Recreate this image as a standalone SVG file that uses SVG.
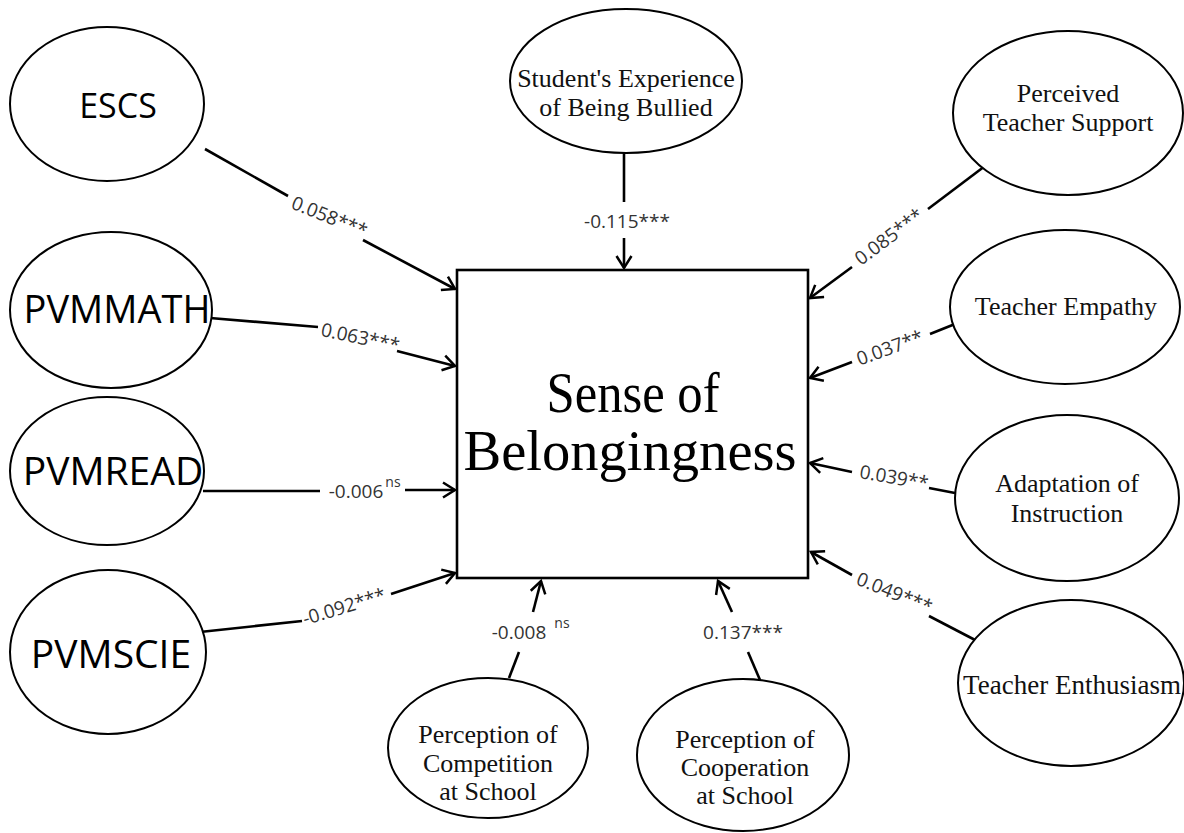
<svg xmlns="http://www.w3.org/2000/svg" width="1184" height="833" viewBox="0 0 1184 833">
<defs>
<style>
.node ellipse{fill:#fff;stroke:#000;stroke-width:2}
.sans{font-family:"Open Sans","DejaVu Sans",sans-serif;font-size:34px;fill:#000;text-anchor:middle}
.serif{font-family:"Liberation Serif","Times New Roman",serif;font-size:26px;fill:#111;text-anchor:middle}
.big{font-family:"Liberation Serif","Times New Roman",serif;font-size:56px;fill:#000;text-anchor:middle}
.lbl{font-family:"Open Sans","DejaVu Sans",sans-serif;font-size:19px;fill:#333;text-anchor:middle}
.sup{font-size:14px}
.conn path{fill:none;stroke:#000;stroke-width:2.6}
</style>
<marker id="arr" markerWidth="18" markerHeight="18" refX="15" refY="9" orient="auto" markerUnits="userSpaceOnUse">
<path d="M3,1.5 L15,9 L3,16.5" fill="none" stroke="#000" stroke-width="2.5"/>
</marker>
</defs>
<rect width="1184" height="833" fill="#fff"/>

<g id="connectors" class="conn">
<path d="M205,149 L288,196"/><path d="M363,240 L455,289" marker-end="url(#arr)"/>
<path d="M210,318 L318,327"/><path d="M397,351 L455,366" marker-end="url(#arr)"/>
<path d="M203,491 L320,491"/><path d="M405,490 L455,490" marker-end="url(#arr)"/>
<path d="M200,632 L302,621"/><path d="M391,594 L455,573" marker-end="url(#arr)"/>
<path d="M624,153 L624,202"/><path d="M624,238 L624,268" marker-end="url(#arr)"/>
<path d="M985,166 L928,209"/><path d="M852,267 L810,298" marker-end="url(#arr)"/>
<path d="M955,324 L930,334"/><path d="M852,362 L810,378" marker-end="url(#arr)"/>
<path d="M955,493 L929,488"/><path d="M852,472 L810,463" marker-end="url(#arr)"/>
<path d="M977,641 L929,616"/><path d="M852,575 L811,552" marker-end="url(#arr)"/>
<path d="M509,678 L519,652"/><path d="M533,612 L541,581" marker-end="url(#arr)"/>
<path d="M760,680 L748,652"/><path d="M732,612 L718,581" marker-end="url(#arr)"/>
</g>

<g id="labels">
<text class="lbl" transform="translate(327,223) rotate(22)">0.058***</text>
<text class="lbl" transform="translate(359,344) rotate(12)">0.063***</text>
<text class="lbl" x="356" y="498">-0.006</text><text class="lbl sup" x="393" y="487">ns</text>
<text class="lbl" transform="translate(346,613) rotate(-17)">-0.092***</text>
<text class="lbl" x="627" y="228">-0.115***</text>
<text class="lbl" transform="translate(893,242) rotate(-37)">0.085***</text>
<text class="lbl" transform="translate(892,354) rotate(-20)">0.037**</text>
<text class="lbl" transform="translate(893,484) rotate(10)">0.039**</text>
<text class="lbl" transform="translate(892,599) rotate(22)">0.049***</text>
<text class="lbl" x="519" y="639">-0.008</text><text class="lbl sup" x="562" y="628">ns</text>
<text class="lbl" x="743" y="639">0.137***</text>
</g>

<g id="sense-of-belongingness">
<rect x="457" y="270" width="351" height="308" fill="#fff" stroke="#000" stroke-width="2.6"/>
<text class="big" x="633" y="412" textLength="173" lengthAdjust="spacingAndGlyphs">Sense of</text>
<text class="big" x="630" y="470" textLength="333" lengthAdjust="spacingAndGlyphs">Belongingness</text>
</g>

<g id="escs" class="node"><ellipse cx="107" cy="104" rx="97" ry="77"/><text class="sans" x="118" y="118">ESCS</text></g>
<g id="pvmmath" class="node"><ellipse cx="111" cy="310" rx="101" ry="78"/><text class="sans" x="117" y="323" style="font-size:38px">PVMMATH</text></g>
<g id="pvmread" class="node"><ellipse cx="107" cy="471" rx="97" ry="74"/><text class="sans" x="113" y="485" style="font-size:39px">PVMREAD</text></g>
<g id="pvmscie" class="node"><ellipse cx="108" cy="652" rx="98" ry="82"/><text class="sans" x="111" y="668" style="font-size:39px">PVMSCIE</text></g>

<g id="bullied" class="node"><ellipse cx="626" cy="81" rx="116" ry="72"/>
<text class="serif" x="626" y="87">Student's Experience</text><text class="serif" x="626" y="116">of Being Bullied</text></g>
<g id="teacher-support" class="node"><ellipse cx="1068" cy="113" rx="115" ry="82"/>
<text class="serif" x="1068" y="102">Perceived</text><text class="serif" x="1068" y="131">Teacher Support</text></g>
<g id="teacher-empathy" class="node"><ellipse cx="1065" cy="307" rx="115" ry="77"/>
<text class="serif" x="1066" y="315">Teacher Empathy</text></g>
<g id="adaptation" class="node"><ellipse cx="1067" cy="498" rx="112" ry="83"/>
<text class="serif" x="1067" y="492">Adaptation of</text><text class="serif" x="1067" y="522">Instruction</text></g>
<g id="enthusiasm" class="node"><ellipse cx="1071" cy="683" rx="113" ry="83"/>
<text class="serif" x="1072" y="694" style="font-size:27px">Teacher Enthusiasm</text></g>
<g id="competition" class="node"><ellipse cx="488" cy="748" rx="100" ry="70"/>
<text class="serif" x="488" y="743">Perception of</text><text class="serif" x="488" y="772">Competition</text><text class="serif" x="488" y="800">at School</text></g>
<g id="cooperation" class="node"><ellipse cx="743" cy="755" rx="106" ry="76"/>
<text class="serif" x="745" y="748">Perception of</text><text class="serif" x="745" y="776">Cooperation</text><text class="serif" x="745" y="804">at School</text></g>
</svg>
